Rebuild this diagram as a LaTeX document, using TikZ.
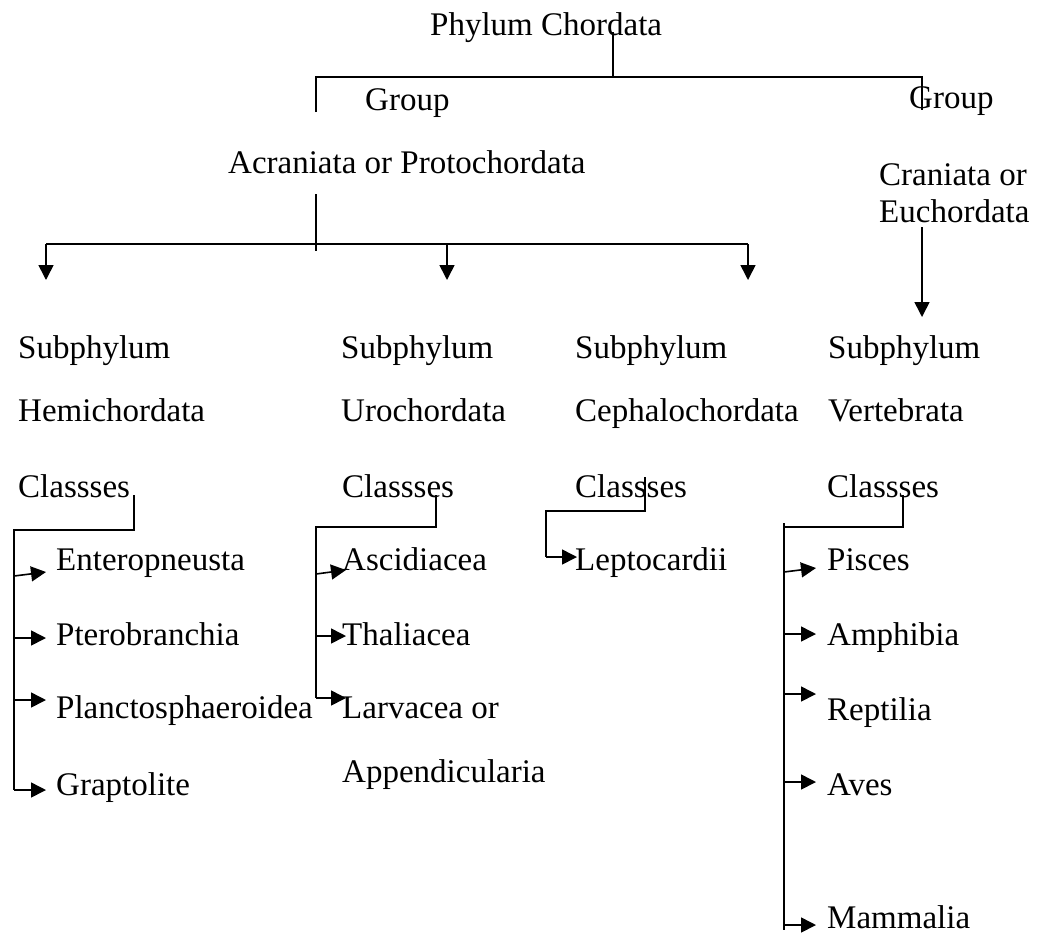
\documentclass[tikz,border=0pt]{standalone}
\usepackage{fontspec}
\setmainfont{Liberation Serif}
\usetikzlibrary{arrows.meta}
\begin{document}
\begin{tikzpicture}[x=1pt,y=-1pt,
  lbl/.style={anchor=base west,inner sep=0pt,font=\fontsize{33}{40}\selectfont},
  ln/.style={line width=1.6pt},
  arr/.style={line width=1.6pt,-{Triangle[length=15pt,width=15pt]}}]
\useasboundingbox (0,0) rectangle (1038,935);
% texts
\node[lbl] (phylum) at (430,35) {Phylum Chordata};
\node[lbl] (groupL) at (365,110) {Group};
\node[lbl] (groupR) at (909,108) {Group};
\node[lbl] (acr) at (228,173) {Acraniata or Protochordata};
\node[lbl] (cran1) at (879,185) {Craniata or};
\node[lbl] (cran2) at (879,222) {Euchordata};
% subphyla
\node[lbl] (s1) at (18,358) {Subphylum};
\node[lbl] (s1b) at (18,421) {Hemichordata};
\node[lbl] (c1) at (18,497) {Classses};
\node[lbl] (s2) at (341,358) {Subphylum};
\node[lbl] (s2b) at (341,421) {Urochordata};
\node[lbl] (c2) at (342,497) {Classses};
\node[lbl] (s3) at (575,358) {Subphylum};
\node[lbl] (s3b) at (575,421) {Cephalochordata};
\node[lbl] (c3) at (575,497) {Classses};
\node[lbl] (s4) at (828,358) {Subphylum};
\node[lbl] (s4b) at (828,421) {Vertebrata};
\node[lbl] (c4) at (827,497) {Classses};
% classes
\node[lbl] (e1) at (56,570) {Enteropneusta};
\node[lbl] (e2) at (56,645) {Pterobranchia};
\node[lbl] (e3) at (56,718) {Planctosphaeroidea};
\node[lbl] (e4) at (56,795) {Graptolite};
\node[lbl] (u1) at (342,570) {Ascidiacea};
\node[lbl] (u2) at (342,645) {Thaliacea};
\node[lbl] (u3) at (342,718) {Larvacea or};
\node[lbl] (u3b) at (342,782) {Appendicularia};
\node[lbl] (l1) at (575,570) {Leptocardii};
\node[lbl] (v1) at (827,570) {Pisces};
\node[lbl] (v2) at (827,645) {Amphibia};
\node[lbl] (v3) at (827,720) {Reptilia};
\node[lbl] (v4) at (827,795) {Aves};
\node[lbl] (v5) at (827,928) {Mammalia};
% connector points
\coordinate (pT) at (613,32);
\coordinate (pB) at (613,77);
\coordinate (gL0) at (316,112);
\coordinate (gL1) at (316,77);
\coordinate (gR1) at (922,77);
\coordinate (gR0) at (922,110);
\coordinate (aT) at (316,194);
\coordinate (aB) at (316,251);
\coordinate (b1) at (46,244);
\coordinate (b2) at (447,244);
\coordinate (b3) at (748,244);
\coordinate (t1) at (46,280);
\coordinate (t2) at (447,280);
\coordinate (t3) at (748,280);
\coordinate (eT) at (922,227);
\coordinate (eB) at (922,317);
% top tree
\draw[ln] (pT) -- (pB);
\draw[ln] (gL0) -- (gL1) -- (gR1) -- (gR0);
\draw[ln] (aT) -- (aB);
\draw[ln] (b1) -- (b3);
\draw[arr] (b1) -- (t1);
\draw[arr] (b2) -- (t2);
\draw[arr] (b3) -- (t3);
\draw[arr] (eT) -- (eB);
% Hemichordata classes
\coordinate (h0) at (134,495);
\coordinate (h1) at (134,530);
\coordinate (h2) at (14,530);
\coordinate (h3) at (14,790);
\draw[ln] (h0) -- (h1) -- (h2) -- (h3);
\foreach \ya/\yb/\nm in {576/572/ha,638/638/hb,700/700/hc,790/790/hd}{
  \coordinate (\nm0) at (14,\ya);
  \coordinate (\nm1) at (46,\yb);
  \draw[arr] (\nm0) -- (\nm1);
}
% Urochordata classes
\coordinate (r0) at (436,495);
\coordinate (r1) at (436,527);
\coordinate (r2) at (316,527);
\coordinate (r3) at (316,698);
\draw[ln] (r0) -- (r1) -- (r2) -- (r3);
\foreach \ya/\yb/\nm in {574/570/ra,636/636/rb,698/698/rc}{
  \coordinate (\nm0) at (316,\ya);
  \coordinate (\nm1) at (346,\yb);
  \draw[arr] (\nm0) -- (\nm1);
}
% Cephalochordata classes
\coordinate (k0) at (645,477);
\coordinate (k1) at (645,511);
\coordinate (k2) at (546,511);
\coordinate (k3) at (546,557);
\coordinate (k4) at (577,557);
\draw[ln] (k0) -- (k1) -- (k2) -- (k3);
\draw[arr] (k3) -- (k4);
% Vertebrata classes
\coordinate (w0) at (903,495);
\coordinate (w1) at (903,527);
\coordinate (w2) at (784,527);
\coordinate (wT) at (784,523);
\coordinate (wB) at (784,930);
\draw[ln] (w0) -- (w1) -- (w2);
\draw[ln] (wT) -- (wB);
\foreach \ya/\yb/\nm in {572/568/va,634/634/vb,694/694/vc,782/782/vd,925/925/ve}{
  \coordinate (\nm0) at (784,\ya);
  \coordinate (\nm1) at (816,\yb);
  \draw[arr] (\nm0) -- (\nm1);
}
\end{tikzpicture}
\end{document}
